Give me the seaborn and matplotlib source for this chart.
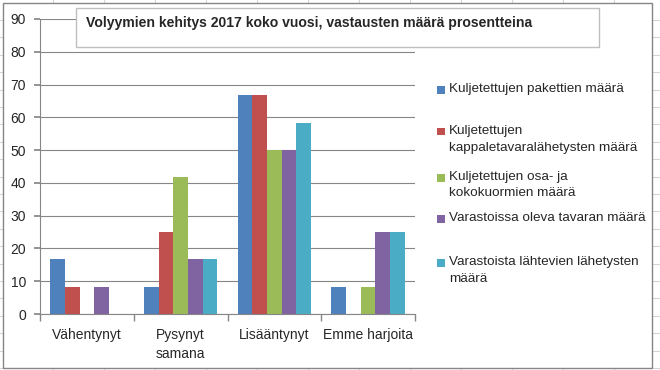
import seaborn as sns
import matplotlib.pyplot as plt
import pandas as pd
from matplotlib.patches import Rectangle
from matplotlib.lines import Line2D

categories = ['Vähentynyt', 'Pysynyt\nsamana', 'Lisääntynyt', 'Emme harjoita']
series = ['Kuljetettujen pakettien määrä',
          'Kuljetettujen\nkappaletavaralähetysten määrä',
          'Kuljetettujen osa- ja\nkokokuormien määrä',
          'Varastoissa oleva tavaran määrä',
          'Varastoista lähtevien lähetysten\nmäärä']
pakettien = [16.67, 8.33, 66.67, 8.33]
kappaletavara = [8.33, 25.0, 66.67, 0.0]
kokokuormat = [0.0, 41.67, 50.0, 8.33]
varastoissa = [8.33, 16.67, 50.0, 25.0]
lahtevat = [0.0, 16.67, 58.33, 25.0]
colors = ['#4F81BD', '#C0504D', '#9BBB59', '#8064A2', '#4BACC6']
yticks = list(range(0, 100, 10))
title = 'Volyymien kehitys 2017 koko vuosi, vastausten määrä prosentteina'

rows = []
for name, vals in zip(series, [pakettien, kappaletavara, kokokuormat, varastoissa, lahtevat]):
    for cat, v in zip(categories, vals):
        rows.append({'kategoria': cat, 'sarja': name, 'arvo': v})
df = pd.DataFrame(rows)

sns.set_theme(style='white')
plt.rcParams['font.family'] = ['Liberation Sans', 'DejaVu Sans']

W, H = 660, 370
fig = plt.figure(figsize=(W / 100, H / 100), dpi=100)
fig.patch.set_facecolor('white')

def fx(px):
    return px / W

def fy(py):
    return 1 - py / H

# spreadsheet grid behind the chart
grid_c = '#D4D4D4'
for x in range(53, 660, 51):
    fig.add_artist(Line2D([fx(x), fx(x)], [fy(0), fy(3)], color=grid_c, lw=0.8, zorder=-3))
    fig.add_artist(Line2D([fx(x), fx(x)], [fy(368), fy(370)], color=grid_c, lw=0.8, zorder=-3))
y = 20.0
while y < 370:
    fig.add_artist(Line2D([fx(652), fx(660)], [fy(y), fy(y)], color=grid_c, lw=0.8, zorder=-3))
    fig.add_artist(Line2D([fx(0), fx(3)], [fy(y), fy(y)], color=grid_c, lw=0.8, zorder=-3))
    y += 17.4
fig.add_artist(Rectangle((fx(3), fy(368)), fx(649), 365 / H, fill=True,
                         facecolor='white', edgecolor='#868686', lw=1.0, zorder=-2))

ax = fig.add_axes([fx(40), fy(314), fx(375), 295 / H])
sns.barplot(data=df, x='kategoria', y='arvo', hue='sarja', palette=colors,
            saturation=1, width=0.785, gap=0, linewidth=0, ax=ax, legend=False)

ax.set_ylim(0, 90)
ax.set_xlim(-0.5, 3.5)
ax.set_yticks(yticks)
ax.set_xlabel('')
ax.set_ylabel('')
ax.yaxis.grid(True, color='#868686', lw=0.8)
ax.set_axisbelow(True)
for s in ['top', 'right']:
    ax.spines[s].set_visible(False)
for s in ['left', 'bottom']:
    ax.spines[s].set_color('#868686')
    ax.spines[s].set_linewidth(0.8)
ax.tick_params(axis='y', length=4, color='#868686', labelsize=10, pad=6, left=True)
ax.tick_params(axis='x', which='major', length=0, labelsize=10, pad=10)
for lbl in ax.get_xticklabels():
    lbl.set_linespacing(1.45)
ax.set_xticks([i - 0.5 for i in range(len(categories) + 1)], minor=True)
ax.tick_params(axis='x', which='minor', length=5, color='#868686', bottom=True)
ax.set_facecolor('none')

# title box
fig.add_artist(Rectangle((fx(76), fy(47)), fx(523), 39 / H, facecolor='white',
                         edgecolor='#BFBFBF', lw=1.0, zorder=5))
fig.text(fx(86), fy(23), title, fontsize=10.05, fontweight='bold', va='center',
         ha='left', zorder=6)

# legend
leg_y = [90, 132, 178, 219, 263]
for name, c, ly in zip(series, colors, leg_y):
    fig.add_artist(Rectangle((fx(437), fy(ly + 3.5)), fx(7.5), 7.5 / H,
                             facecolor=c, edgecolor='none'))
    fig.text(fx(449), fy(ly - 7), name, fontsize=9.7, va='top', ha='left',
             linespacing=1.5)

fig.savefig('out.png', dpi=100)
